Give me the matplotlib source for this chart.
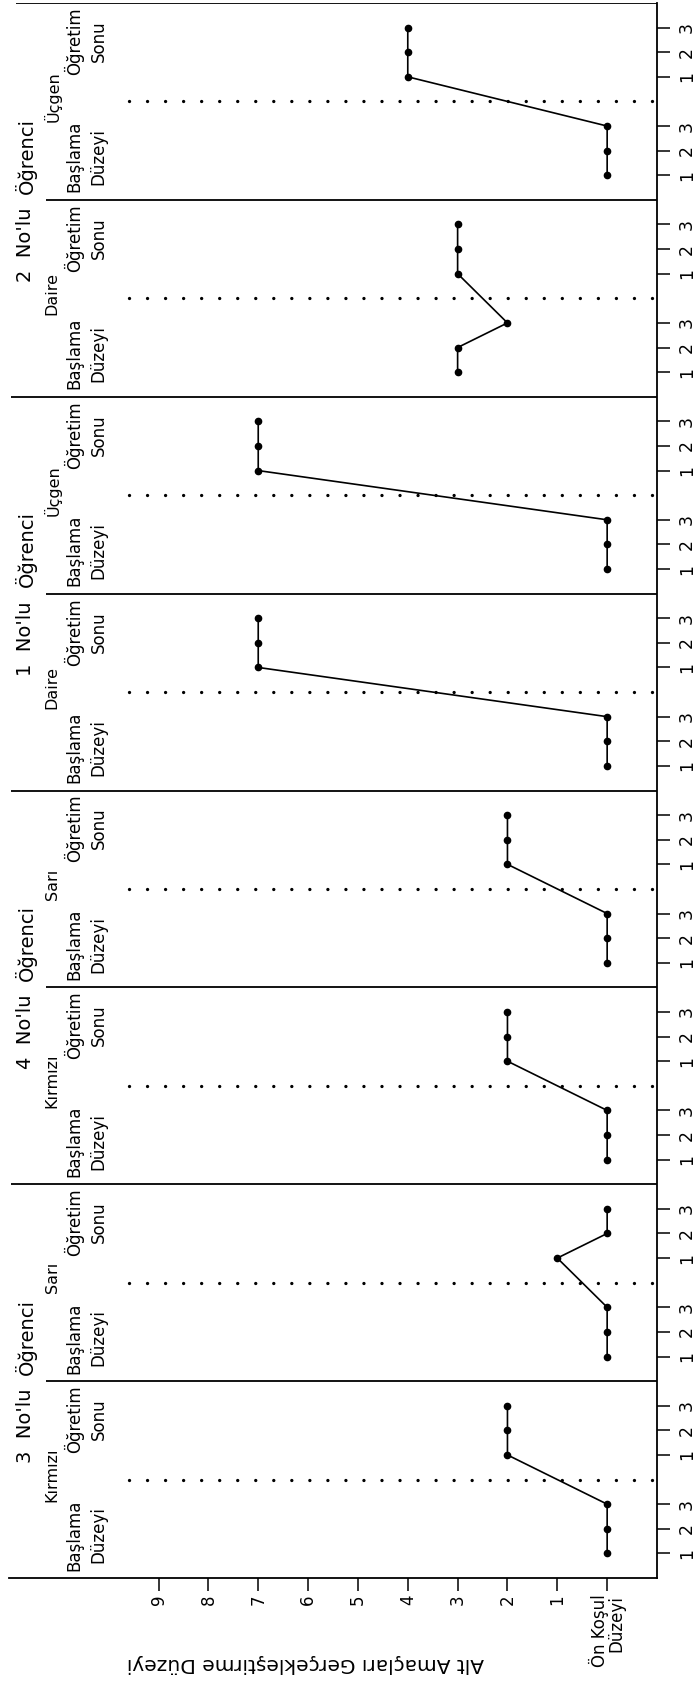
import matplotlib
matplotlib.use('Agg')
import matplotlib.pyplot as plt

# panels listed bottom -> top (page is turned sideways)
students = ['3', '3', '4', '4', '1', '1', '2', '2']
conditions = ['Kırmızı', 'Sarı', 'Kırmızı', 'Sarı', 'Daire', 'Üçgen', 'Daire', 'Üçgen']
baseline = [
    [0, 0, 0],
    [0, 0, 0],
    [0, 0, 0],
    [0, 0, 0],
    [0, 0, 0],
    [0, 0, 0],
    [3, 3, 2],
    [0, 0, 0],
]
post = [
    [2, 2, 2],
    [1, 0, 0],
    [2, 2, 2],
    [2, 2, 2],
    [7, 7, 7],
    [7, 7, 7],
    [3, 3, 3],
    [4, 4, 4],
]
session_labels = ['1', '2', '3']
level_ticks = [9, 8, 7, 6, 5, 4, 3, 2, 1, 0]
level_labels = ['9', '8', '7', '6', '5', '4', '3', '2', '1', 'Ön Koşul\nDüzeyi']

W, H = 694, 1689
fig = plt.figure(figsize=(W / 100, H / 100), dpi=100)
ax = fig.add_axes([9 / W, 111 / H, 648 / W, 1575 / H])

PANEL = 8  # units per panel: sessions at 1-3, phase line at 4, sessions at 5-7
n = len(students)
ax.set_xlim(12.0, -1.0)
ax.set_ylim(0, n * PANEL)

for k in range(n):
    y0 = k * PANEL
    ys = [y0 + 1, y0 + 2, y0 + 3, y0 + 5, y0 + 6, y0 + 7]
    ax.plot(baseline[k] + post[k], ys, color='black', lw=1.2,
            marker='o', ms=4.5, zorder=3)
    # phase change line
    ax.plot([9.6, -1.0], [y0 + 4, y0 + 4], color='black', lw=2.4,
            ls=(0, (0.01, 5.4)), dash_capstyle='round', zorder=2)
    ax.text(10.45, y0 + 1.75, 'Başlama\nDüzeyi', rotation=90, ha='center',
            va='center', multialignment='center', fontsize=12, linespacing=1.4)
    ax.text(10.45, y0 + 6.45, 'Öğretim\nSonu', rotation=90, ha='center',
            va='center', multialignment='center', fontsize=12, linespacing=1.4)
    ax.text(11.13, y0 + 4.2, conditions[k], rotation=90, ha='center',
            va='center', fontsize=11.5)

# panel separators; the ones under a student title leave room for it
for k in range(1, n):
    start = 11.25 if k % 2 == 1 else 11.95
    ax.hlines(k * PANEL, start, -1.0, color='black', lw=1.3)
ax.hlines(n * PANEL, 11.85, -1.0, color='black', lw=1.3)

for k in range(0, n, 2):
    yb = (k + 1) * PANEL
    ax.text(11.66, yb - 0.3, f'{students[k]}  No\'lu', rotation=90,
            ha='center', va='top', fontsize=14)
    ax.text(11.66, yb + 0.25, 'Öğrenci', rotation=90,
            ha='center', va='bottom', fontsize=14)

# axes cosmetics
for side in ['left', 'top']:
    ax.spines[side].set_visible(False)
for side in ['right', 'bottom']:
    ax.spines[side].set_linewidth(1.3)

yt, yl = [], []
for k in range(n):
    for j, off in enumerate([1, 2, 3, 5, 6, 7]):
        yt.append(k * PANEL + off)
        yl.append(session_labels[j % 3])
ax.set_yticks(yt)
ax.set_yticklabels(yl)
ax.yaxis.tick_right()
ax.tick_params(axis='y', direction='out', length=9, width=1.1, pad=6,
               labelsize=12.5, labelrotation=90)
for t in ax.get_yticklabels():
    t.set_va('center')

ax.set_xticks(level_ticks)
ax.set_xticklabels(level_labels)
ax.tick_params(axis='x', direction='out', length=9, width=1.1, pad=3,
               labelsize=12, labelrotation=90)
for t in ax.get_xticklabels():
    t.set_multialignment('right')
    t.set_linespacing(0.9)

fig.text(305 / W, 1 - 1663 / H, 'Alt Amaçları Gerçekleştirme Düzeyi',
         rotation=180, ha='center', va='center', fontsize=14.5)

fig.savefig('out.png', dpi=100)
